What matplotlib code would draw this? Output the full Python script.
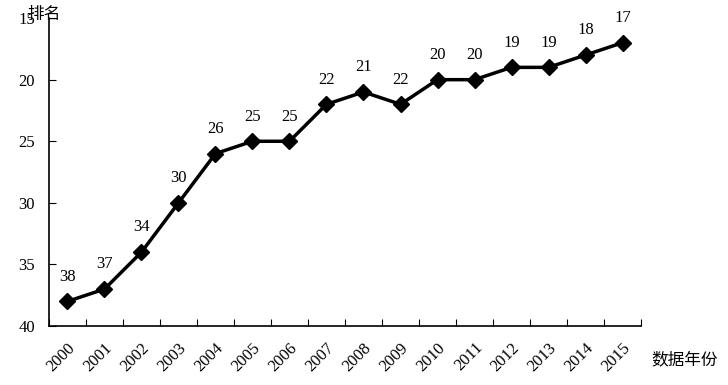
import matplotlib
matplotlib.use('Agg')
import matplotlib.pyplot as plt

years = ['2000', '2001', '2002', '2003', '2004', '2005', '2006', '2007',
         '2008', '2009', '2010', '2011', '2012', '2013', '2014', '2015']
ranks = [38, 37, 34, 30, 26, 25, 25, 22, 21, 22, 20, 20, 19, 19, 18, 17]

plt.rcParams['font.family'] = ['Liberation Serif', 'Noto Sans CJK SC']

fig = plt.figure(figsize=(7.28, 3.85), dpi=100)
ax = fig.add_axes([0.0673, 0.1532, 0.8132, 0.7998])

x = list(range(len(years)))
ax.plot(x, ranks, color='black', linewidth=2.5, marker='D', markersize=8)
for xi, r in zip(x, ranks):
    ax.annotate(str(r), (xi, r), xytext=(0, 12), textcoords='offset points',
                ha='center', va='bottom', fontsize=12)

ax.set_xlim(-0.5, len(years) - 0.5)
ax.set_ylim(40, 15)
ax.set_yticks([15, 20, 25, 30, 35, 40])
ax.set_xticks([i + 0.5 for i in range(-1, len(years))])
ax.set_xticklabels([])
ax.set_xticks(x, minor=True)
ax.set_xticklabels(years, minor=True, rotation=45, ha='right', va='top',
                   rotation_mode='anchor', fontsize=12)
ax.tick_params(axis='x', which='minor', length=0, pad=10)
ax.tick_params(axis='x', which='major', direction='in', length=5)
ax.tick_params(axis='y', direction='in', length=5, labelsize=12, pad=10)

for s in ['top', 'right']:
    ax.spines[s].set_visible(False)
for s in ['left', 'bottom']:
    ax.spines[s].set_linewidth(1.2)

fig.text(0.038, 0.962, '排名', fontsize=12, family='Noto Sans CJK SC',
         ha='left', va='center')
fig.text(0.895, 0.065, '数据年份', fontsize=12, family='Noto Sans CJK SC',
         ha='left', va='center')

fig.savefig('out.png', dpi=100)
